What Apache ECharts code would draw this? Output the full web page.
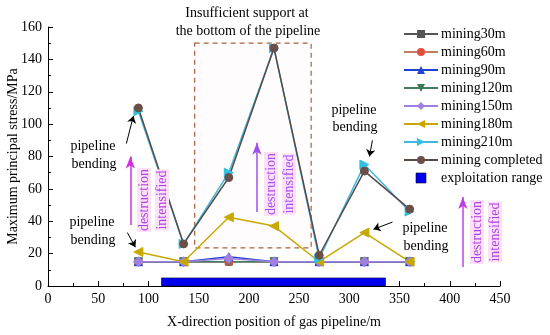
<!DOCTYPE html>
<html><head><meta charset="utf-8">
<script src="https://cdn.jsdelivr.net/npm/echarts@6/dist/echarts.min.js"></script>
<style>html,body{margin:0;padding:0;background:#fff}#c{width:550px;height:335px}</style>
</head><body><div id="c"></div>
<script>
var xPositions = [90, 135, 180, 225, 270, 315, 360];
var mining30m  = [15, 15, 15, 15, 15, 15, 15];
var mining60m  = [15, 15, 15, 15, 15, 15, 15];
var mining90m  = [15, 15, 18, 15, 15, 15, 15];
var mining120m = [15, 15, 15, 15, 15, 15, 15];
var mining150m = [15, 15, 17, 15, 15, 15, 15];
var mining180m = [21, 15, 42.5, 37, 15, 33, 15];
var mining210m = [108, 26, 70, 147, 17, 75, 46];
var miningCompleted = [110, 26, 67, 147, 19, 71, 47.5];
var exploitationRange = [113, 336, 5];
var yTicks = [0, 20, 40, 60, 80, 100, 120, 140, 160];
var xTicks = [0, 50, 100, 150, 200, 250, 300, 350, 400, 450];

var FONT = 'Liberation Serif';
function pairs(vals){ return xPositions.map(function(x,i){return [x, vals[i]];}); }
function lineSeries(name, vals, lineColor, symColor, symbol, rot, size){
  return {
    name: name, type: 'line', data: pairs(vals),
    symbol: symbol, symbolSize: size || 8, symbolRotate: rot || 0,
    lineStyle: {color: lineColor, width: 1.5},
    itemStyle: {color: symColor, borderColor: symColor},
    emphasis: {disabled: true}, z: 3
  };
}
var series = [
  lineSeries('mining30m', mining30m, '#555555', '#555555', 'rect', 0, 7),
  lineSeries('mining60m', mining60m, '#c08060', '#e05040', 'circle', 0, 8),
  lineSeries('mining90m', mining90m, '#2040d0', '#2040d0', 'triangle', 0, 8),
  lineSeries('mining120m', mining120m, '#408060', '#3a7a55', 'triangle', 180, 8),
  lineSeries('mining150m', mining150m, '#a080e0', '#a080e0', 'diamond', 0, 10),
  lineSeries('mining180m', mining180m, '#c8a800', '#c8a800', 'triangle', 90, 9),
  lineSeries('mining210m', mining210m, '#40b8e0', '#30c0e0', 'triangle', -90, 9),
  lineSeries('mining completed', miningCompleted, '#5a4a45', '#6a5048', 'circle', 0, 8),
  {
    name: 'exploitation range', type: 'custom',
    data: [exploitationRange],
    itemStyle: {color: '#0000ee'},
    renderItem: function(params, api){
      var p0 = api.coord([api.value(0), 0]);
      var p1 = api.coord([api.value(1), api.value(2)]);
      return {type: 'rect', shape: {x: p0[0], y: p1[1], width: p1[0]-p0[0], height: p0[1]-p1[1]},
        style: {fill: '#0000ee', stroke: '#000033', lineWidth: 0.6}};
    }, z: 2
  },
  {
    name: 'anno', type: 'line', data: [], silent: true,
    markArea: {
      silent: true,
      itemStyle: {color: 'rgba(255,220,235,0.08)', borderColor: '#a8603f', borderWidth: 1.2, borderType: [5, 4]},
      data: [[{coord: [146, 150]}, {coord: [262, 23.5]}]]
    },
    markLine: {
      silent: true, label: {show: false}, animation: false,
      data: [
        [{coord: [78, 88], symbol: 'none'}, {coord: [85, 105], symbol: 'arrow', symbolSize: 7}],
        [{coord: [79, 33], symbol: 'none'}, {coord: [87, 24], symbol: 'arrow', symbolSize: 7}],
        [{coord: [323, 90], symbol: 'none'}, {coord: [320, 80], symbol: 'arrow', symbolSize: 7}],
        [{coord: [343, 39.5], symbol: 'none'}, {coord: [324, 35], symbol: 'arrow', symbolSize: 7}],
        [{coord: [82, 37.7], symbol: 'none', lineStyle: {color: '#d030e0', width: 1.5}}, {coord: [82, 80], symbol: 'arrow', symbolSize: [7, 12]}],
        [{coord: [208, 45.7], symbol: 'none', lineStyle: {color: '#a050ee', width: 1.5}}, {coord: [208, 88.5], symbol: 'arrow', symbolSize: [7, 12]}],
        [{coord: [413, 11.7], symbol: 'none', lineStyle: {color: '#c040e8', width: 1.5}}, {coord: [413, 55], symbol: 'arrow', symbolSize: [7, 12]}]
      ],
      lineStyle: {color: '#000', type: 'solid', width: 1}
    }
  }
];

function txt(x, y, s, opt){
  return Object.assign({type: 'text', x: x, y: y, silent: true,
    style: {text: s, font: '14px "' + FONT + '"', fill: '#000', align: 'center', verticalAlign: 'middle'}}, opt || {});
}
function vtxt(x, y, s, color){
  return {type: 'text', x: x, y: y, rotation: Math.PI/2, silent: true, z: 10,
    style: {text: s, font: '14px "' + FONT + '"', fill: color, align: 'center', verticalAlign: 'middle',
      backgroundColor: '#fde0fa', padding: [0, 1]}};
}

var chart = echarts.init(document.getElementById('c'));
chart.setOption({
  animation: false,
  backgroundColor: '#fff',
  textStyle: {fontFamily: FONT},
  grid: {left: 48, right: 50, top: 27, bottom: 49, containLabel: false, outerBoundsMode: 'none'},
  xAxis: {
    type: 'value', min: 0, max: 450, interval: 50,
    name: 'X-direction position of gas pipeline/m', nameLocation: 'middle', nameGap: 29, nameMoveOverlap: false,
    nameTextStyle: {fontFamily: FONT, fontSize: 14, color: '#000'},
    axisLine: {show: true, onZero: false, lineStyle: {color: '#000', width: 1}},
    axisTick: {show: true, inside: true, length: 5, lineStyle: {color: '#000'}},
    minorTick: {show: true, splitNumber: 2, length: 3, lineStyle: {color: '#000'}},
    axisLabel: {fontFamily: FONT, fontSize: 14, color: '#000', margin: 6,
      formatter: function(v){ return xTicks.indexOf(v) >= 0 ? String(v) : ''; }},
    splitLine: {show: false}
  },
  yAxis: {
    type: 'value', min: 0, max: 160, interval: 20,
    name: 'Maximum principal stress/MPa', nameLocation: 'middle', nameGap: 28, nameMoveOverlap: false,
    nameTextStyle: {fontFamily: FONT, fontSize: 14, color: '#000'},
    axisLine: {show: true, onZero: false, lineStyle: {color: '#000', width: 1}},
    axisTick: {show: true, inside: true, length: 5, lineStyle: {color: '#000'}},
    minorTick: {show: true, splitNumber: 2, length: 3, lineStyle: {color: '#000'}},
    axisLabel: {fontFamily: FONT, fontSize: 14, color: '#000', margin: 6,
      formatter: function(v){ return yTicks.indexOf(v) >= 0 ? String(v) : ''; }},
    splitLine: {show: false}
  },
  legend: {
    orient: 'vertical', left: 403, top: 27, padding: 0, itemWidth: 34, itemHeight: 10, itemGap: 4,
    textStyle: {fontFamily: FONT, fontSize: 14, color: '#000', padding: [0, 0, 0, -2]},
    data: ['mining30m', 'mining60m', 'mining90m', 'mining120m', 'mining150m', 'mining180m', 'mining210m', 'mining completed',
      {name: 'exploitation range', icon: 'path://M0,0L10,0L10,10L0,10Z', itemStyle: {color: '#0000ee', borderColor: '#000033', borderWidth: 0.6}}]
  },
  graphic: [
    txt(247, 13, 'Insufficient support at'),
    txt(248, 31, 'the bottom of the pipeline'),
    txt(93, 146, 'pipeline'), txt(94, 164, 'bending'),
    txt(92, 222, 'pipeline'), txt(93, 240, 'bending'),
    txt(354, 110, 'pipeline'), txt(355, 127, 'bending'),
    txt(425, 228, 'pipeline'), txt(426, 246, 'bending'),
    vtxt(144, 200, 'destruction', '#b040e0'), vtxt(162, 200, 'intensified', '#b040e0'),
    vtxt(271, 184, 'destruction', '#a850ee'), vtxt(289, 184, 'intensified', '#a850ee'),
    vtxt(477, 232, 'destruction', '#b040e0'), vtxt(495, 232, 'intensified', '#b040e0')
  ],
  series: series
});
</script></body></html>
